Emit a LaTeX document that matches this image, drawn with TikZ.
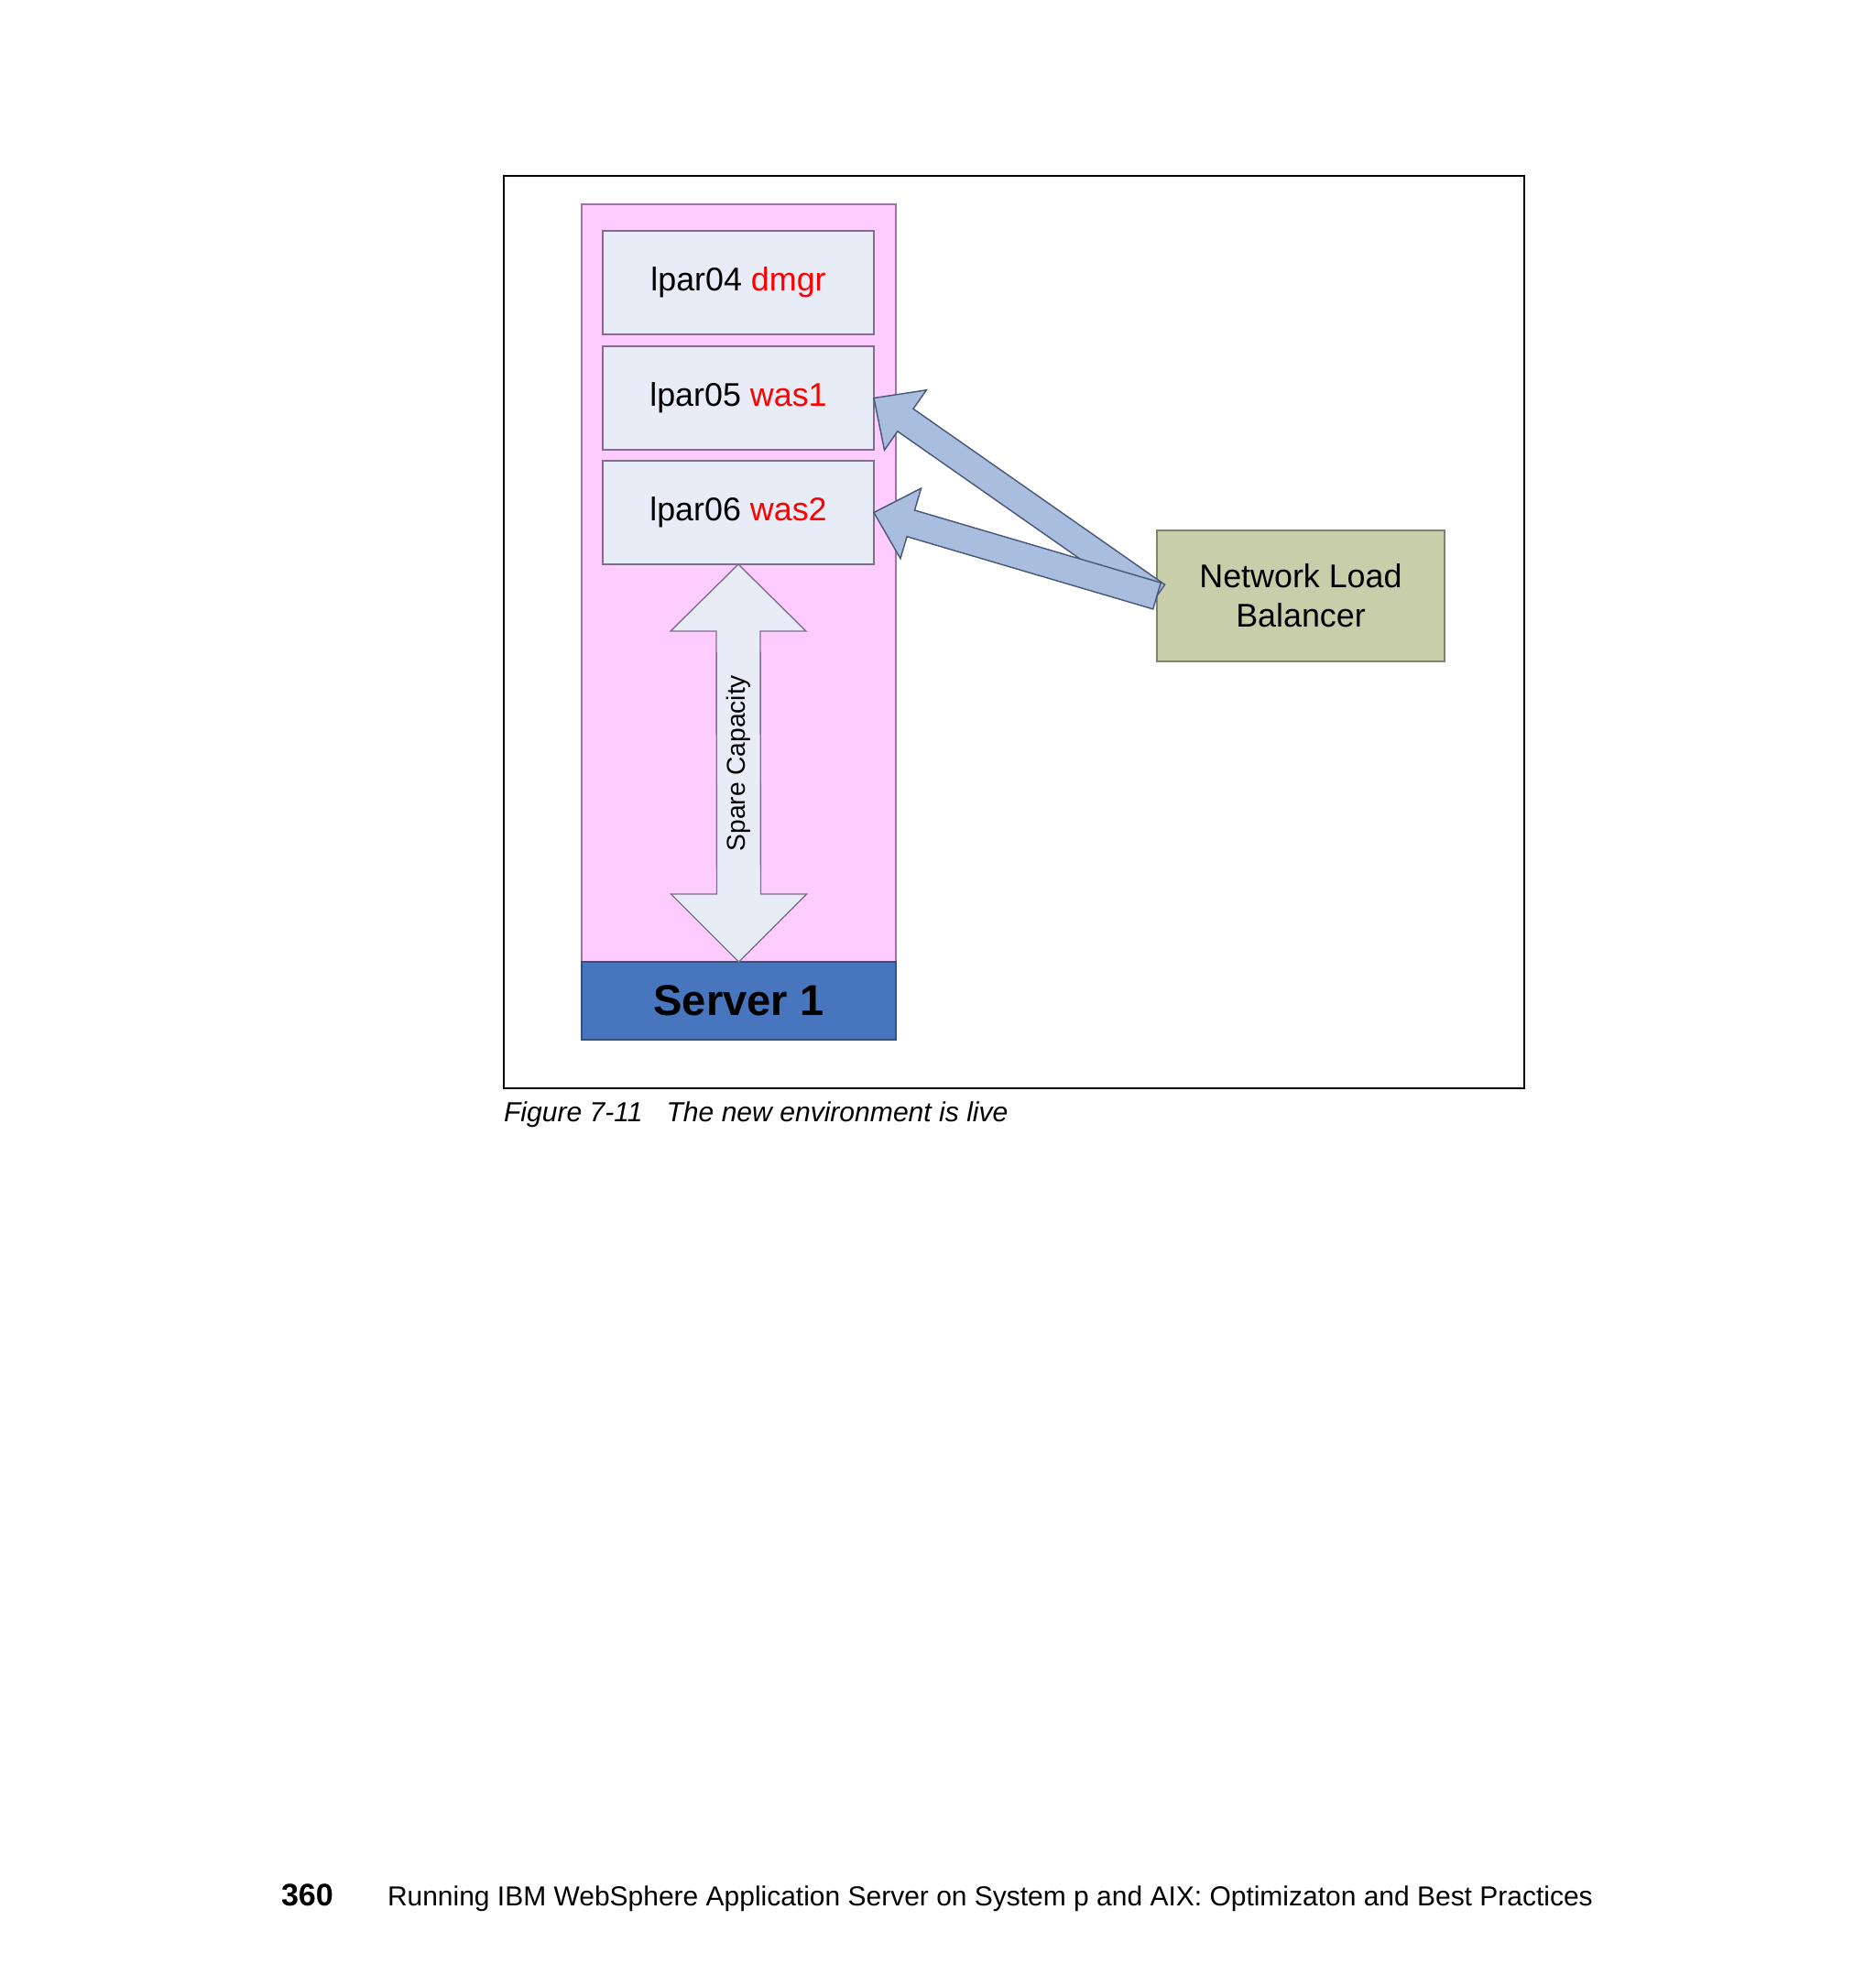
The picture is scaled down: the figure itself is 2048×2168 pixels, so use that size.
\documentclass[tikz,border=0pt]{standalone}
\usepackage{fontspec}
\setmainfont{Liberation Sans}
\usetikzlibrary{positioning,calc}

\definecolor{hostfill}{RGB}{255,204,255}
\definecolor{hostline}{RGB}{150,120,160}
\definecolor{lparfill}{RGB}{232,236,246}
\definecolor{lparline}{RGB}{128,110,140}
\definecolor{flowfill}{RGB}{169,190,223}
\definecolor{flowline}{RGB}{70,85,120}
\definecolor{serverfill}{RGB}{71,118,190}
\definecolor{serverline}{RGB}{50,80,130}
\definecolor{nlbfill}{RGB}{200,205,170}
\definecolor{nlbline}{RGB}{130,130,110}

% block arrow from #1 (tail) to #2 (tip)
\newcommand{\blockarrow}[2]{%
	\draw[flow] ($(#1)!1.5mm!90:(#2)$) -- ($(#2)!4.46mm!-19.65:(#1)$)
		-- ($(#2)!5.8mm!-43.6:(#1)$) -- (#2) -- ($(#2)!5.8mm!43.6:(#1)$)
		-- ($(#2)!4.46mm!19.65:(#1)$) -- ($(#1)!1.5mm!-90:(#2)$) -- cycle;}

\begin{document}
\begin{tikzpicture}[
	x=0.1mm, y=-0.1mm,
	every node/.style={
		inner sep=0pt,
		outer sep=0pt
	},
	host/.style={draw=hostline, fill=hostfill, line width=0.4pt, minimum width=34.3mm, minimum height=82.7mm},
	server/.style={draw=serverline, fill=serverfill, line width=0.4pt, minimum width=34.3mm, minimum height=8.5mm, font=\fontsize{13.4}{16}\selectfont\bfseries},
	lpar/.style={draw=lparline, fill=lparfill, line width=0.4pt, minimum width=29.6mm, minimum height=11.3mm, font=\fontsize{10.2}{12.2}\selectfont},
	nlb/.style={draw=nlbline, fill=nlbfill, line width=0.4pt, minimum width=31.4mm, minimum height=14.3mm, align=center, font=\fontsize{10.2}{12.2}\selectfont},
	spare/.style={draw=lparline, fill=lparfill, line width=0.4pt},
	flow/.style={draw=flowline, fill=flowfill, line width=0.4pt}
]
\useasboundingbox (0,0) rectangle (2048,2168);

\draw[line width=0.6pt] (550,192) rectangle (1664,1188);

\node[host] (host) at (806.5,636.5) {};
\node[server, below=0pt of host] (server) {Server 1};

\node[lpar] (lpar04) at (806,308.5) {lpar04 \textcolor{red}{dmgr}};
\node[lpar, below=1.3mm of lpar04] (lpar05) {lpar05 \textcolor{red}{was1}};
\node[lpar, below=1.2mm of lpar05] (lpar06) {lpar06 \textcolor{red}{was2}};

% spare capacity double arrow
\draw[spare] (lpar06.south) -- ($(lpar06.south)+(74,73)$) -- ($(lpar06.south)+(24,73)$)
	-- ($(server.north)+(24,-74)$) -- ($(server.north)+(74,-74)$) -- (server.north)
	-- ($(server.north)+(-74,-74)$) -- ($(server.north)+(-24,-74)$)
	-- ($(lpar06.south)+(-24,73)$) -- ($(lpar06.south)+(-74,73)$) -- cycle;
\node[rotate=90, font=\fontsize{8}{9.6}\selectfont] (sparetext) at ($(lpar06.south)!0.5!(server.north)$) {Spare Capacity};

\node[nlb] (nlb) at (1420,650.5) {Network Load\\Balancer};

\blockarrow{nlb.west}{lpar05.east}
\blockarrow{nlb.west}{lpar06.east}

\node[anchor=west, font=\fontsize{8.56}{10}\selectfont\itshape] (caption) at (550,1217) {Figure 7-11\hspace{2.6mm}The new environment is live};

\node[anchor=base west, font=\fontsize{9.7}{11}\selectfont\bfseries] (pageno) at (307,2080) {360};
\node[anchor=base west, font=\fontsize{8.53}{10}\selectfont] (booktitle) at (423,2080) {Running IBM WebSphere Application Server on System p and AIX: Optimizaton and Best Practices};
\end{tikzpicture}
\end{document}
